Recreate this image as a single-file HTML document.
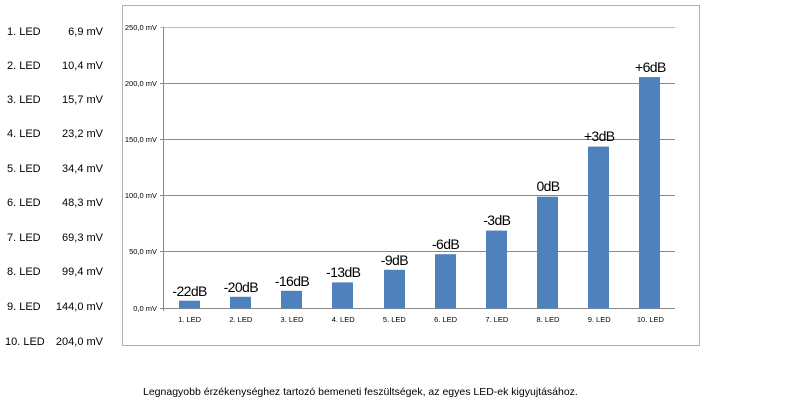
<!DOCTYPE html>
<html><head><meta charset="utf-8"><style>
html,body{margin:0;padding:0;background:#fff;}
svg{display:block;font-family:"Liberation Sans",sans-serif;}
</style></head><body>
<svg width="811" height="405" viewBox="0 0 811 405" xmlns="http://www.w3.org/2000/svg">
<rect x="122.5" y="5.5" width="577" height="340" fill="#fff" stroke="#b0b0b0"/>
<g stroke="#888" stroke-width="1">
<line x1="160" y1="27.5" x2="675" y2="27.5" stroke="#bbb"/>
<line x1="160" y1="83.5" x2="675" y2="83.5"/>
<line x1="160" y1="139.5" x2="675" y2="139.5"/>
<line x1="160" y1="195.5" x2="675" y2="195.5"/>
<line x1="160" y1="251.5" x2="675" y2="251.5"/>
<line x1="160" y1="308.5" x2="675" y2="308.5"/>
<line x1="163.5" y1="27" x2="163.5" y2="311"/>
</g>
<g font-size="7.5" fill="#000" text-anchor="end">
<text x="157" y="30">250,0 mV</text>
<text x="157" y="86">200,0 mV</text>
<text x="157" y="142">150,0 mV</text>
<text x="157" y="198">100,0 mV</text>
<text x="157" y="254">50,0 mV</text>
<text x="157" y="311">0,0 mV</text>
</g>
<g fill="#4f81bd">
<rect x="179" y="300.7" width="21" height="7.8"/>
<rect x="230" y="296.8" width="21" height="11.7"/>
<rect x="281" y="290.8" width="21" height="17.7"/>
<rect x="332" y="282.4" width="21" height="26.1"/>
<rect x="384" y="269.8" width="21" height="38.7"/>
<rect x="435" y="254.2" width="21" height="54.3"/>
<rect x="486" y="230.6" width="21" height="77.9"/>
<rect x="537" y="196.7" width="21" height="111.8"/>
<rect x="588" y="146.6" width="21" height="161.9"/>
<rect x="639" y="77.1" width="21" height="231.4"/>
</g>
<g font-size="14" fill="#000" text-anchor="middle" letter-spacing="-0.6">
<text x="189.6" y="296">-22dB</text>
<text x="240.8" y="292">-20dB</text>
<text x="292" y="286">-16dB</text>
<text x="343.2" y="277">-13dB</text>
<text x="394.4" y="265">-9dB</text>
<text x="445.6" y="249">-6dB</text>
<text x="496.8" y="225">-3dB</text>
<text x="548" y="191">0dB</text>
<text x="599.2" y="141">+3dB</text>
<text x="650.4" y="72">+6dB</text>
</g>
<g font-size="7.5" fill="#000" text-anchor="middle">
<text x="189.6" y="322">1. LED</text>
<text x="240.8" y="322">2. LED</text>
<text x="292" y="322">3. LED</text>
<text x="343.2" y="322">4. LED</text>
<text x="394.4" y="322">5. LED</text>
<text x="445.6" y="322">6. LED</text>
<text x="496.8" y="322">7. LED</text>
<text x="548" y="322">8. LED</text>
<text x="599.2" y="322">9. LED</text>
<text x="650.4" y="322">10. LED</text>
</g>
<g font-size="11" fill="#000">
<text x="7" y="35">1. LED</text><text x="103" y="35" text-anchor="end">6,9 mV</text>
<text x="7" y="69">2. LED</text><text x="103" y="69" text-anchor="end">10,4 mV</text>
<text x="7" y="103">3. LED</text><text x="103" y="103" text-anchor="end">15,7 mV</text>
<text x="7" y="137">4. LED</text><text x="103" y="137" text-anchor="end">23,2 mV</text>
<text x="7" y="172">5. LED</text><text x="103" y="172" text-anchor="end">34,4 mV</text>
<text x="7" y="206">6. LED</text><text x="103" y="206" text-anchor="end">48,3 mV</text>
<text x="7" y="241">7. LED</text><text x="103" y="241" text-anchor="end">69,3 mV</text>
<text x="7" y="275">8. LED</text><text x="103" y="275" text-anchor="end">99,4 mV</text>
<text x="7" y="310">9. LED</text><text x="103" y="310" text-anchor="end">144,0 mV</text>
<text x="5" y="345">10. LED</text><text x="103" y="345" text-anchor="end">204,0 mV</text>
</g>
<text x="143" y="395" font-size="10.5" fill="#000">Legnagyobb érzékenységhez tartozó bemeneti feszültségek, az egyes LED-ek kigyujtásához.</text>
</svg>
</body></html>
